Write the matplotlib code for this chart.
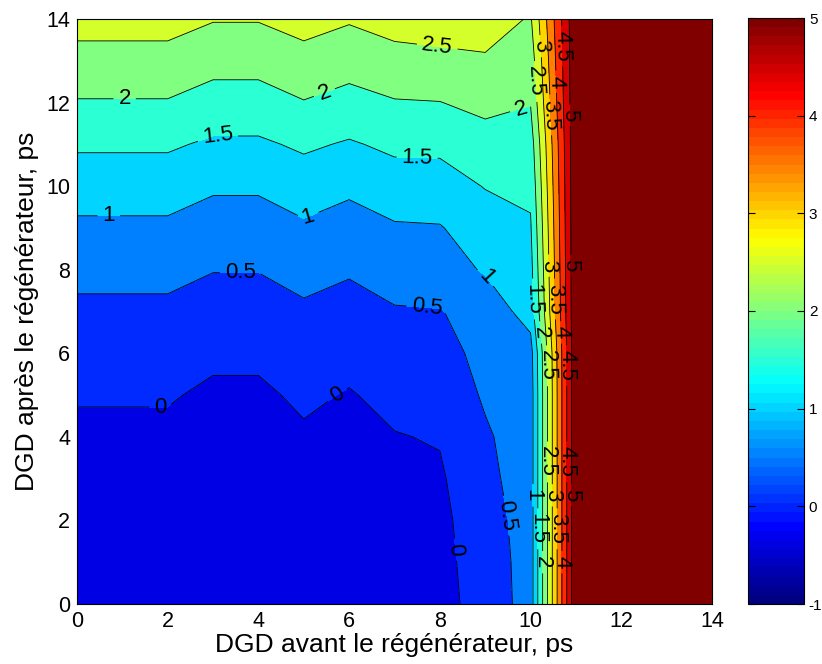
import numpy as np
import matplotlib
matplotlib.use("Agg")
import matplotlib.pyplot as plt
from matplotlib.colors import ListedColormap, Normalize
from matplotlib.cm import ScalarMappable

plt.rcParams['font.family'] = ['Liberation Sans', 'DejaVu Sans']

# DGD before regenerator (x) and after regenerator (y), ps
dgd_before = [0, 1, 2, 3, 4, 5, 6, 7, 8, 9, 10, 11, 12, 13, 14]
dgd_after = [0, 1, 2, 3, 4, 5, 6, 7, 8, 9, 10, 11, 12, 13, 14]

# penalty values, one list per DGD-before column (values along DGD-after 0..14)
pen_x0 = [-0.35, -0.33, -0.29, -0.21, -0.10, 0.04, 0.22, 0.39, 0.65, 0.91, 1.22, 1.57, 1.97, 2.30, 2.72]
pen_x1 = [-0.35, -0.33, -0.29, -0.21, -0.10, 0.04, 0.22, 0.39, 0.65, 0.91, 1.22, 1.57, 1.97, 2.30, 2.72]
pen_x2 = [-0.35, -0.33, -0.29, -0.21, -0.10, 0.04, 0.22, 0.39, 0.65, 0.91, 1.22, 1.57, 1.97, 2.30, 2.72]
pen_x3 = [-0.50, -0.48, -0.44, -0.36, -0.25, -0.08, 0.09, 0.24, 0.52, 0.76, 1.07, 1.42, 1.82, 2.15, 2.53]
pen_x4 = [-0.50, -0.48, -0.44, -0.36, -0.25, -0.08, 0.09, 0.24, 0.52, 0.76, 1.07, 1.42, 1.82, 2.15, 2.53]
pen_x5 = [-0.33, -0.31, -0.27, -0.19, -0.06, 0.08, 0.24, 0.42, 0.67, 0.93, 1.24, 1.58, 1.98, 2.30, 2.72]
pen_x6 = [-0.42, -0.40, -0.36, -0.28, -0.18, -0.03, 0.14, 0.29, 0.56, 0.79, 1.10, 1.45, 1.85, 2.18, 2.55]
pen_x7 = [-0.30, -0.28, -0.23, -0.14, -0.02, 0.12, 0.27, 0.46, 0.72, 0.95, 1.27, 1.60, 1.97, 2.31, 2.72]
pen_x8 = [-0.10, -0.10, -0.10, -0.06, 0.03, 0.19, 0.33, 0.48, 0.77, 0.97, 1.30, 1.60, 1.99, 2.36, 2.78]
pen_x9 = [0.125, 0.17, 0.25, 0.37, 0.44, 0.555, 0.64, 0.685, 1.05, 1.27, 1.52, 1.80, 2.13, 2.415, 2.84]
pen_x10 = [0.75, 0.75, 0.75, 0.75, 0.75, 0.75, 0.80, 1.21, 1.33, 1.45, 1.59, 1.75, 2.02, 2.22, 2.44]
pen_x11 = [5.45, 5.45, 5.45, 5.45, 5.45, 5.45, 5.45, 5.45, 5.45, 5.45, 5.45, 5.45, 5.45, 5.45, 5.45]
pen_x12 = [5.45, 5.45, 5.45, 5.45, 5.45, 5.45, 5.45, 5.45, 5.45, 5.45, 5.45, 5.45, 5.45, 5.45, 5.45]
pen_x13 = [5.45, 5.45, 5.45, 5.45, 5.45, 5.45, 5.45, 5.45, 5.45, 5.45, 5.45, 5.45, 5.45, 5.45, 5.45]
pen_x14 = [5.45, 5.45, 5.45, 5.45, 5.45, 5.45, 5.45, 5.45, 5.45, 5.45, 5.45, 5.45, 5.45, 5.45, 5.45]

contour_levels = [0, 0.5, 1, 1.5, 2, 2.5, 3, 3.5, 4, 4.5, 5]
cbar_ticks = [-1, 0, 1, 2, 3, 4, 5]
clim = (-1, 5)

Z = np.array([pen_x0, pen_x1, pen_x2, pen_x3, pen_x4, pen_x5, pen_x6, pen_x7,
              pen_x8, pen_x9, pen_x10, pen_x11, pen_x12, pen_x13, pen_x14]).T
X, Y = np.meshgrid(dgd_before, dgd_after)


def mjet(t):
    t = np.clip(t, 0, 1)
    r = np.clip(1.5 - abs(4 * t - 3), 0, 1)
    g = np.clip(1.5 - abs(4 * t - 2), 0, 1)
    b = np.clip(1.5 - abs(4 * t - 1), 0, 1)
    return (float(r), float(g), float(b))


def vcol(v):
    return mjet((v - clim[0]) / (clim[1] - clim[0]))


fig = plt.figure(figsize=(8.22, 6.64), dpi=100)
ax = fig.add_axes([77 / 822, 1 - 604 / 664, 635 / 822, 585 / 664])
cax = fig.add_axes([748 / 822, 1 - 604 / 664, 56 / 822, 586 / 664])

fill_levels = [-1] + contour_levels + [10]
fill_colors = [vcol(-0.4)] + [vcol(l) for l in contour_levels]
ax.contourf(X, Y, Z, levels=fill_levels, colors=fill_colors)

label_pos = {
    0: [(1.84, 4.72), (5.8, 4.9), (8.3, 1.3)],
    0.5: [(3.6, 7.9), (7.7, 6.9), (9.45, 2.1)],
    1: [(0.7, 9.3), (5.1, 9.25), (9.0, 7.8), (10.05, 2.6)],
    1.5: [(3.1, 11.2), (7.5, 10.7), (10.1, 7.3), (10.16, 1.8)],
    2: [(1.05, 12.08), (5.5, 12.1), (9.8, 11.8), (10.25, 6.5), (10.27, 1.0)],
    2.5: [(7.95, 13.4), (10.05, 12.5), (10.37, 5.7), (10.37, 3.4)],
    3: [(10.2, 13.35), (10.46, 8.1), (10.48, 2.6)],
    3.5: [(10.35, 11.7), (10.57, 7.3), (10.59, 1.8)],
    4: [(10.52, 12.5), (10.68, 6.5), (10.69, 1.0)],
    4.5: [(10.68, 13.35), (10.8, 5.7), (10.8, 3.4)],
    5: [(10.85, 11.7), (10.88, 8.1), (10.9, 2.6)],
}
for lev in contour_levels:
    cs = ax.contour(X, Y, Z, levels=[lev], colors='k', linewidths=0.6)
    ax.clabel(cs, manual=label_pos[lev], inline=True, fontsize=16,
              fmt=lambda v: ('%g' % v), colors='k')

ax.set_xlim(0, 14)
ax.set_ylim(0, 14)
ax.set_xticks([0, 2, 4, 6, 8, 10, 12, 14])
ax.set_yticks([0, 2, 4, 6, 8, 10, 12, 14])
ax.tick_params(length=0, labelsize=15.5, pad=5)
ax.set_xlabel('DGD avant le régénérateur, ps', fontsize=19, labelpad=1)
ax.set_ylabel('DGD après le régénérateur, ps', fontsize=19, labelpad=5)

cmap64 = ListedColormap([mjet(i / 63) for i in range(64)])
sm = ScalarMappable(norm=Normalize(*clim), cmap=cmap64)
cb = fig.colorbar(sm, cax=cax, ticks=cbar_ticks)
cb.outline.set_linewidth(0.8)
cax.tick_params(direction='in', left=True, right=True, length=5, labelsize=11, width=0.8)
cax.set_yticklabels([str(t) for t in cbar_ticks])

fig.savefig('out.png', dpi=100)
